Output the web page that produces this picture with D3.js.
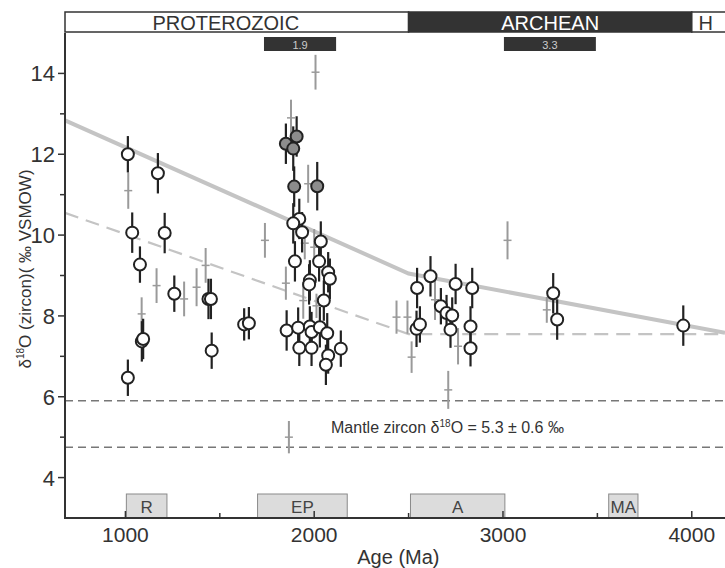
<!DOCTYPE html>
<html>
<head>
<meta charset="utf-8">
<script src="https://cdn.jsdelivr.net/npm/d3@7"></script>
<style>
	body { margin: 0; background: #fff; }
	svg { display: block; font-family: 'Liberation Sans', Arial, sans-serif; }
</style>
</head>
<body>
<div id="chart"></div>
<script>

// zircon analyses: [age (Ma), d18O, error]
var open_points = [
	[1013, 12.0, 0.45], [1172, 11.53, 0.5], [1036, 10.06, 0.5], [1208, 10.05, 0.5],
	[1077, 9.27, 0.45], [1259, 8.55, 0.45], [1440, 8.42, 0.5], [1453, 8.42, 0.5],
	[1087, 7.37, 0.5], [1094, 7.43, 0.5], [1457, 7.14, 0.45], [1013, 6.47, 0.45],
	[1629, 7.79, 0.4], [1654, 7.82, 0.4],
	[1921, 10.4, 0.5], [1889, 10.29, 0.5], [1936, 10.07, 0.5], [2035, 9.84, 0.5],
	[1898, 9.35, 0.5], [2026, 9.35, 0.5], [2074, 9.08, 0.5], [2083, 8.92, 0.5],
	[1977, 8.88, 0.5], [1973, 8.78, 0.5], [2051, 8.38, 0.5], [1854, 7.64, 0.5],
	[1915, 7.71, 0.5], [1977, 7.74, 0.5], [1986, 7.6, 0.5], [2030, 7.72, 0.5],
	[2069, 7.57, 0.5], [1921, 7.21, 0.45], [1986, 7.21, 0.45], [2141, 7.19, 0.45],
	[2074, 7.02, 0.45], [2062, 6.79, 0.5],
	[2545, 8.69, 0.5], [2616, 8.98, 0.5], [2749, 8.79, 0.5], [2837, 8.69, 0.5],
	[2671, 8.24, 0.45], [2701, 8.07, 0.45], [2731, 8.01, 0.45], [2722, 7.66, 0.45],
	[2542, 7.68, 0.45], [2560, 7.79, 0.45], [2828, 7.74, 0.5], [2828, 7.2, 0.45],
	[3266, 8.56, 0.5], [3287, 7.91, 0.5], [3955, 7.76, 0.5]
];

var grey_points = [
	[1850, 12.26, 0.5], [1907, 12.44, 0.5], [1889, 12.14, 0.55], [1894, 11.2, 0.5], [2016, 11.21, 0.6]
];

var cross_points = [
	[1015, 11.1, 0.45], [1086, 8.05, 0.41], [1165, 8.75, 0.43], [1311, 8.42, 0.43],
	[1377, 8.71, 0.47], [1425, 9.25, 0.43], [1739, 9.87, 0.43], [1850, 8.81, 0.41],
	[1942, 8.38, 0.45], [1877, 12.9, 0.45], [2007, 14.03, 0.43], [1968, 11.27, 0.47],
	[1950, 9.8, 0.4], [2000, 9.7, 0.45], [2012, 8.25, 0.3],
	[1866, 5.0, 0.4], [3024, 9.87, 0.47], [2436, 7.97, 0.41], [2494, 7.97, 0.41],
	[2516, 6.98, 0.39], [2710, 6.17, 0.47], [2640, 8.4, 0.5], [2762, 7.25, 0.45],
	[3232, 8.15, 0.32]
];

var upper_curve = [[680, 12.84], [2500, 9.05], [4176, 7.58]];
var lower_curve = [[680, 10.55], [2500, 7.55], [4176, 7.55]];
var mantle_lines = [5.9, 4.75];

var eons = [['PROTEROZOIC', 680, 2500], ['ARCHEAN', 2500, 4000], ['H', 4000, 4400]];
var peaks = [['1.9', 1734, 2116], ['3.3', 3005, 3492]];
var events = [['R', 1005, 1220], ['EP', 1700, 2175], ['A', 2510, 3010], ['MA', 3560, 3715]];

var x_ticks = [1000, 2000, 3000, 4000];
var x_minor = [1500, 2500, 3500];
var y_ticks = [4, 6, 8, 10, 12, 14];
var y_minor = [5, 7, 9, 11, 13];

var width = 725, height = 568;
var left = 65, right = 725, top_y = 33, bottom = 518;

var svg = d3.select('#chart').append('svg')
	.attr('width', width)
	.attr('height', height);

var x = d3.scaleLinear().domain([680, 4176]).range([left, right]);
var y = d3.scaleLinear().domain([3, 15]).range([bottom, top_y]);

// mantle range
svg.selectAll('.mantle').data(mantle_lines)
	.enter().append('line')
		.attr('x1', left).attr('x2', right)
		.attr('y1', function(d) { return y(d); })
		.attr('y2', function(d) { return y(d); })
		.attr('stroke', '#777')
		.attr('stroke-width', 1.5)
		.attr('stroke-dasharray', '8,5');

var mtext = svg.append('text')
	.attr('x', 331).attr('y', 433)
	.attr('font-size', 16)
	.attr('fill', '#333');
mtext.append('tspan').text('Mantle zircon \u03b4');
mtext.append('tspan').attr('font-size', 10).attr('dy', -6).text('18');
mtext.append('tspan').attr('dy', 6).text('O = 5.3 \u00b1 0.6 \u2030');

var line = d3.line()
	.x(function(d) { return x(d[0]); })
	.y(function(d) { return y(d[1]); });

svg.append('path')
	.attr('d', line(lower_curve))
	.attr('fill', 'none')
	.attr('stroke', '#c4c4c4')
	.attr('stroke-width', 2.2)
	.attr('stroke-dasharray', '14,8');

svg.append('path')
	.attr('d', line(upper_curve))
	.attr('fill', 'none')
	.attr('stroke', '#c4c4c4')
	.attr('stroke-width', 4);

// grey crosses
var crosses = svg.selectAll('.cross').data(cross_points)
	.enter().append('g')
		.attr('class', 'cross')
		.attr('stroke', '#9a9a9a');
crosses.append('line')
	.attr('x1', function(d) { return x(d[0]); })
	.attr('x2', function(d) { return x(d[0]); })
	.attr('y1', function(d) { return y(d[1] - d[2]); })
	.attr('y2', function(d) { return y(d[1] + d[2]); })
	.attr('stroke-width', 2);
crosses.append('line')
	.attr('x1', function(d) { return x(d[0]) - 4; })
	.attr('x2', function(d) { return x(d[0]) + 4; })
	.attr('y1', function(d) { return y(d[1]); })
	.attr('y2', function(d) { return y(d[1]); })
	.attr('stroke-width', 1.5);

function draw_points(data, fill) {
	var g = svg.append('g');
	g.selectAll('line').data(data)
		.enter().append('line')
			.attr('x1', function(d) { return x(d[0]); })
			.attr('x2', function(d) { return x(d[0]); })
			.attr('y1', function(d) { return y(d[1] - d[2]); })
			.attr('y2', function(d) { return y(d[1] + d[2]); })
			.attr('stroke', '#222')
			.attr('stroke-width', 2.2);
	g.selectAll('circle').data(data)
		.enter().append('circle')
			.attr('cx', function(d) { return x(d[0]); })
			.attr('cy', function(d) { return y(d[1]); })
			.attr('r', 6)
			.attr('fill', fill)
			.attr('stroke', '#222')
			.attr('stroke-width', 2);
}

draw_points(grey_points, '#8c8c8c');
draw_points(open_points, '#fff');

// event boxes along the bottom
var ev = svg.selectAll('.event').data(events)
	.enter().append('g');
ev.append('rect')
	.attr('x', function(d) { return x(d[1]); })
	.attr('width', function(d) { return x(d[2]) - x(d[1]); })
	.attr('y', 494)
	.attr('height', bottom - 494)
	.attr('fill', '#dcdcdc')
	.attr('stroke', '#8a8a8a')
	.attr('stroke-width', 1);
ev.append('text')
	.attr('x', function(d) { return (x(d[1]) + x(d[2])) / 2; })
	.attr('y', 513)
	.attr('text-anchor', 'middle')
	.attr('font-size', 17)
	.attr('fill', '#444')
	.text(function(d) { return d[0]; });

// axes
var yaxis = svg.append('g');
yaxis.selectAll('.major').data(y_ticks)
	.enter().append('line')
		.attr('x1', left - 7).attr('x2', left)
		.attr('y1', function(d) { return y(d); })
		.attr('y2', function(d) { return y(d); })
		.attr('stroke', '#333').attr('stroke-width', 1.5);
yaxis.selectAll('.minor').data(y_minor)
	.enter().append('line')
		.attr('x1', left - 5).attr('x2', left)
		.attr('y1', function(d) { return y(d); })
		.attr('y2', function(d) { return y(d); })
		.attr('stroke', '#333').attr('stroke-width', 1.5);
yaxis.selectAll('text').data(y_ticks)
	.enter().append('text')
		.attr('x', left - 10)
		.attr('y', function(d) { return y(d) + 8; })
		.attr('text-anchor', 'end')
		.attr('font-size', 22)
		.attr('fill', '#333')
		.text(function(d) { return d; });

var xaxis = svg.append('g');
xaxis.selectAll('.major').data(x_ticks)
	.enter().append('line')
		.attr('x1', function(d) { return x(d); })
		.attr('x2', function(d) { return x(d); })
		.attr('y1', bottom - 7).attr('y2', bottom)
		.attr('stroke', '#333').attr('stroke-width', 1.5);
xaxis.selectAll('.minor').data(x_minor)
	.enter().append('line')
		.attr('x1', function(d) { return x(d); })
		.attr('x2', function(d) { return x(d); })
		.attr('y1', bottom - 5).attr('y2', bottom)
		.attr('stroke', '#333').attr('stroke-width', 1.5);
xaxis.selectAll('text').data(x_ticks)
	.enter().append('text')
		.attr('x', function(d) { return x(d); })
		.attr('y', 542)
		.attr('text-anchor', 'middle')
		.attr('font-size', 21)
		.attr('fill', '#333')
		.text(function(d) { return d; });

svg.append('line')
	.attr('x1', left).attr('x2', left)
	.attr('y1', top_y).attr('y2', bottom + 1)
	.attr('stroke', '#333').attr('stroke-width', 2);
svg.append('line')
	.attr('x1', left - 1).attr('x2', right)
	.attr('y1', bottom).attr('y2', bottom)
	.attr('stroke', '#333').attr('stroke-width', 2);

svg.append('text')
	.attr('x', (left + x(4000)) / 2 + 20)
	.attr('y', 564)
	.attr('text-anchor', 'middle')
	.attr('font-size', 20)
	.attr('fill', '#333')
	.text('Age (Ma)');

var ytitle = svg.append('text')
	.attr('transform', 'translate(31,269) rotate(-90)')
	.attr('text-anchor', 'middle')
	.attr('font-size', 17)
	.attr('fill', '#333');
ytitle.append('tspan').text('\u03b4');
ytitle.append('tspan').attr('font-size', 10).attr('dy', -7).text('18');
ytitle.append('tspan').attr('dy', 7).text('O (zircon)( \u2030 VSMOW)');

// eon bar across the top
var eon = svg.selectAll('.eon').data(eons)
	.enter().append('g');
eon.append('rect')
	.attr('x', function(d) { return x(d[1]); })
	.attr('width', function(d) { return x(d[2]) - x(d[1]); })
	.attr('y', 12).attr('height', 20)
	.attr('fill', function(d, i) { return i == 1 ? '#333' : '#fff'; })
	.attr('stroke', '#333')
	.attr('stroke-width', 1.5);
eon.append('text')
	.attr('x', function(d, i) {
		if(i == 2) return x(d[1]) + 14;
		if(i == 0) return (x(d[1]) + x(d[2])) / 2 - 11;
		return (x(d[1]) + x(d[2])) / 2;
	})
	.attr('y', 30)
	.attr('text-anchor', 'middle')
	.attr('font-size', 20)
	.attr('fill', function(d, i) { return i == 1 ? '#fff' : '#333'; })
	.text(function(d) { return d[0]; });

var peak = svg.selectAll('.peak').data(peaks)
	.enter().append('g');
peak.append('rect')
	.attr('x', function(d) { return x(d[1]); })
	.attr('width', function(d) { return x(d[2]) - x(d[1]); })
	.attr('y', 37).attr('height', 14)
	.attr('fill', '#333');
peak.append('text')
	.attr('x', function(d) { return (x(d[1]) + x(d[2])) / 2; })
	.attr('y', 48.5)
	.attr('text-anchor', 'middle')
	.attr('font-size', 11)
	.attr('fill', '#ccc')
	.text(function(d) { return d[0]; });

</script>
</body>
</html>
